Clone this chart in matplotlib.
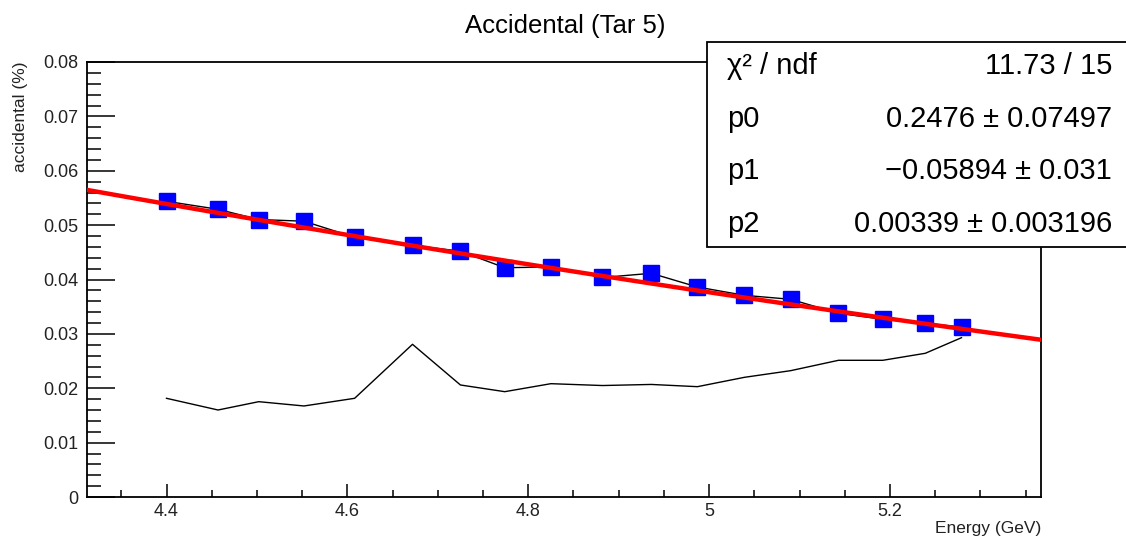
import numpy as np
import matplotlib
matplotlib.use("Agg")
import matplotlib.pyplot as plt
from matplotlib.patches import Rectangle
from matplotlib.ticker import FixedLocator, MultipleLocator, FuncFormatter

plt.rcParams['font.family'] = ['Liberation Sans', 'DejaVu Sans']

# ---- data ----
energy = [4.400, 4.457, 4.502, 4.552, 4.608, 4.672, 4.725, 4.774, 4.825,
          4.882, 4.936, 4.987, 5.039, 5.090, 5.143, 5.192, 5.239, 5.279]
accidental = [0.05438, 0.05291, 0.05103, 0.05072, 0.04776, 0.04629, 0.04520,
              0.04217, 0.04230, 0.04037, 0.04114, 0.03862, 0.03709, 0.03636,
              0.03378, 0.03268, 0.03194, 0.03126]
accidental_low = [0.01815, 0.01600, 0.01753, 0.01674, 0.01815, 0.02808,
                  0.02060, 0.01937, 0.02084, 0.02050, 0.02070, 0.02029,
                  0.02201, 0.02323, 0.02514, 0.02514, 0.02643, 0.02930]
fit_params = [0.2476, -0.05894, 0.00339]
fit_errors = [0.07497, 0.031, 0.003196]
chi2_text = "11.73 / 15"
title = "Accidental (Tar 5)"
xlabel = "Energy (GeV)"
ylabel = "accidental (%)"
xticks = [4.4, 4.6, 4.8, 5.0, 5.2]
yticks = [0, 0.01, 0.02, 0.03, 0.04, 0.05, 0.06, 0.07, 0.08]

W, H = 1126, 539
fig = plt.figure(figsize=(W / 100, H / 100), dpi=100)
L, R, T, B = 87, 1041, 62, 497
ax = fig.add_axes([L / W, 1 - B / H, (R - L) / W, (B - T) / H])

xmin = min(energy) - 0.1 * (max(energy) - min(energy))
xmax = max(energy) + 0.1 * (max(energy) - min(energy))
ax.set_xlim(xmin, xmax)
ax.set_ylim(0, 0.08)

ax.plot(energy, accidental_low, color='black', lw=1.0, zorder=2)
ax.plot(energy, accidental, color='black', lw=1.0, zorder=2)
ax.plot(energy, accidental, linestyle='none', marker='s', markersize=11.5,
        color='#0000ff', markeredgecolor='#0000ff', zorder=3)

xf = np.linspace(xmin, xmax, 100)
yf = fit_params[0] + fit_params[1] * xf + fit_params[2] * xf ** 2
ax.plot(xf, yf, color='#ff0000', lw=3.2, zorder=4)

for s in ['left', 'bottom', 'top', 'right']:
    ax.spines[s].set_linewidth(1.3)

ax.xaxis.set_major_locator(FixedLocator(xticks))
ax.xaxis.set_minor_locator(MultipleLocator(0.05))
ax.yaxis.set_major_locator(FixedLocator(yticks))
ax.yaxis.set_minor_locator(MultipleLocator(0.002))
fmt = FuncFormatter(lambda v, p: ('%g' % round(v, 4)))
ax.xaxis.set_major_formatter(fmt)
ax.yaxis.set_major_formatter(fmt)
ax.tick_params(axis='y', which='major', direction='in', length=20, width=1.1,
               labelsize=13, pad=6, right=False)
ax.tick_params(axis='y', which='minor', direction='in', length=10, width=1.1, right=False)
ax.tick_params(axis='x', which='major', direction='in', length=9.5, width=1.1,
               labelsize=13, pad=4, top=False)
ax.tick_params(axis='x', which='minor', direction='in', length=5, width=1.1, top=False)
for lab in ax.get_xticklabels() + ax.get_yticklabels():
    lab.set_color('#222222')

fig.text(R / W, 1 - 528 / H, xlabel, ha='right', va='center', fontsize=12.5, color='#222222')
fig.text(21 / W, 1 - T / H, ylabel, ha='center', va='top', rotation=90,
         fontsize=12.5, color='#222222')
fig.text(565 / W, 1 - 26 / H, title, ha='center', va='center', fontsize=18.5)

# stat box
bx0, by0, by1 = 707, 42, 247
rect = Rectangle((bx0 / W, 1 - by1 / H), (W + 10 - bx0) / W, (by1 - by0) / H,
                 transform=fig.transFigure, facecolor='white', edgecolor='black',
                 lw=1.3, zorder=5)
fig.add_artist(rect)
labels = ["\u03c7\u00b2 / ndf", "p0", "p1", "p2"]
values = [chi2_text]
for i in range(3):
    v = ("%g" % fit_params[i]).replace('-', '\u2212')
    values.append(f"{v} \u00b1 {fit_errors[i]:g}")
baselines = [74, 127, 179, 232]
for lab, val, yb in zip(labels, values, baselines):
    fig.text(727 / W, 1 - yb / H, lab, ha='left', va='baseline', fontsize=21, zorder=6)
    fig.text(1112 / W, 1 - yb / H, val, ha='right', va='baseline', fontsize=21, zorder=6)

fig.savefig('out.png', dpi=100)
